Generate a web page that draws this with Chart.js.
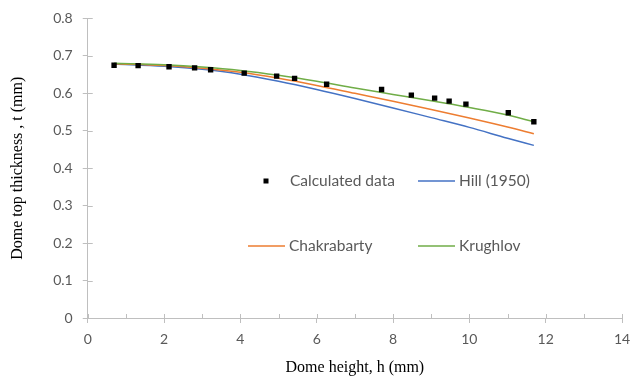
<!DOCTYPE html>
<html><head><meta charset="utf-8">
<script src="https://cdn.jsdelivr.net/npm/chart.js@4/dist/chart.umd.min.js"></script>
<style>html,body{margin:0;padding:0;background:#fff}#wrap{width:643px;height:383px}</style>
</head><body><div id="wrap"><canvas id="c" width="643" height="383"></canvas></div>
<script>
const calcH = [0.69, 1.32, 2.13, 2.80, 3.22, 4.10, 4.95, 5.42, 6.26, 7.70, 8.48, 9.09, 9.47, 9.91, 11.02, 11.69];
const calcT = [0.675, 0.674, 0.671, 0.668, 0.663, 0.654, 0.646, 0.640, 0.624, 0.610, 0.595, 0.587, 0.579, 0.571, 0.548, 0.524];
const modelH = [0.69, 2, 3, 4, 5, 6, 7, 8, 9, 10, 11, 11.69];
const hillT = [0.678, 0.672, 0.664, 0.651, 0.632, 0.610, 0.586, 0.561, 0.535, 0.509, 0.480, 0.461];
const chakT = [0.679, 0.674, 0.667, 0.656, 0.640, 0.621, 0.600, 0.579, 0.557, 0.534, 0.510, 0.492];
const krugT = [0.680, 0.676, 0.670, 0.661, 0.648, 0.632, 0.614, 0.597, 0.580, 0.562, 0.542, 0.524];
const xTicks = [0, 2, 4, 6, 8, 10, 12, 14];
const yTicks = [0, 0.1, 0.2, 0.3, 0.4, 0.5, 0.6, 0.7, 0.8];

const pts = (xs, ys) => xs.map((x, i) => ({x, y: ys[i]}));
const tickFont = {family: 'Lato, "Open Sans", sans-serif', size: 14};
const gray = '#595959';
const axisCol = '#BFBFBF';

const legendPlugin = {
  id: 'gridLegend',
  afterDraw(chart) {
    const ctx = chart.ctx;
    const ds = chart.data.datasets;
    const slots = [[266, 181], [418, 181], [248, 246], [418, 246]];
    ctx.save();
    ctx.font = '15.5px Lato, "Open Sans", sans-serif';
    ctx.fillStyle = gray;
    ctx.textBaseline = 'middle';
    ds.forEach((d, i) => {
      const [x, y] = slots[i];
      if (d.showLine === false) {
        ctx.fillStyle = '#000';
        ctx.fillRect(x - 2.5, y - 2.5, 5, 5);
        ctx.fillStyle = gray;
        ctx.fillText(d.label, 290, y);
      } else {
        ctx.strokeStyle = d.borderColor;
        ctx.lineWidth = 1.5;
        ctx.beginPath(); ctx.moveTo(x, y); ctx.lineTo(x + 37, y); ctx.stroke();
        ctx.fillStyle = gray;
        ctx.fillText(d.label, x + 41, y);
      }
    });
    ctx.restore();
  }
};

const innerTicks = {
  id: 'innerTicks',
  afterDraw(chart) {
    const ctx = chart.ctx, xs = chart.scales.x, ys = chart.scales.y;
    ctx.save();
    ctx.strokeStyle = axisCol; ctx.lineWidth = 1;
    for (let v = 0; v <= 14; v++) {
      const px = Math.round(xs.getPixelForValue(v)) + 0.5;
      ctx.beginPath(); ctx.moveTo(px, ys.bottom); ctx.lineTo(px, ys.bottom - 4); ctx.stroke();
    }
    yTicks.forEach(v => {
      const py = Math.round(ys.getPixelForValue(v)) + 0.5;
      ctx.beginPath(); ctx.moveTo(xs.left, py); ctx.lineTo(xs.left + 5, py); ctx.stroke();
    });
    ctx.restore();
  }
};

new Chart(document.getElementById('c'), {
  type: 'scatter',
  data: {
    datasets: [
      {label: 'Calculated data', data: pts(calcH, calcT), showLine: false, pointStyle: 'rect', pointRadius: 3.8, backgroundColor: '#000', borderColor: '#000', borderWidth: 0, order: 0},
      {label: 'Hill (1950)', data: pts(modelH, hillT), showLine: true, borderColor: '#4472C4', borderWidth: 1.5, pointRadius: 0, cubicInterpolationMode: 'monotone', order: 3},
      {label: 'Chakrabarty', data: pts(modelH, chakT), showLine: true, borderColor: '#ED7D31', borderWidth: 1.5, pointRadius: 0, cubicInterpolationMode: 'monotone', order: 2},
      {label: 'Krughlov', data: pts(modelH, krugT), showLine: true, borderColor: '#70AD47', borderWidth: 1.5, pointRadius: 0, cubicInterpolationMode: 'monotone', order: 1}
    ]
  },
  options: {
    responsive: false,
    animation: false,
    devicePixelRatio: 1,
    layout: {padding: {top: 5, right: 21, bottom: 2, left: 4}},
    plugins: {legend: {display: false}, tooltip: {enabled: false}},
    scales: {
      x: {
        type: 'linear', min: 0, max: 14,
        afterBuildTicks: s => { s.ticks = xTicks.map(v => ({value: v})); },
        grid: {display: true, drawOnChartArea: false, color: axisCol, tickLength: 5, tickColor: axisCol},
        border: {color: axisCol, width: 1},
        ticks: {color: gray, font: tickFont, padding: 8},
        title: {display: true, text: 'Dome height, h (mm)', color: '#000', font: {family: '"Liberation Serif", "Times New Roman", serif', size: 16}, padding: {top: 2}}
      },
      y: {
        type: 'linear', min: 0, max: 0.8,
        afterBuildTicks: s => { s.ticks = yTicks.map(v => ({value: v})); },
        grid: {display: true, drawOnChartArea: false, color: axisCol, tickLength: 5, tickColor: axisCol},
        border: {color: axisCol, width: 1},
        ticks: {color: gray, font: tickFont, padding: 10, callback: v => String(Math.round(v * 10) / 10)},
        title: {display: true, text: 'Dome top thickness , t (mm)', color: '#000', font: {family: '"Liberation Serif", "Times New Roman", serif', size: 16}, padding: {bottom: 16}}
      }
    }
  },
  plugins: [innerTicks, legendPlugin]
});
</script>
</body></html>
